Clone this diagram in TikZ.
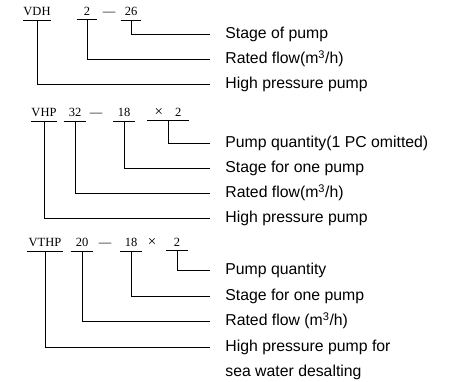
\documentclass[tikz,border=0pt]{standalone}
\usepackage{fontspec}
\setmainfont{Liberation Serif}
\setsansfont{Liberation Sans}
\usepackage{tikz}
\usetikzlibrary{positioning}

\begin{document}
\begin{tikzpicture}[x=1pt,y=-1pt,line width=0.8pt,
		code/.style={anchor=base, inner xsep=0pt, inner ysep=3.5pt, font=\rmfamily\fontsize{12.5}{14}\selectfont},
		sign/.style={anchor=base, inner sep=0pt, font=\rmfamily\fontsize{12.5}{14}\selectfont},
		lbl/.style={anchor=west, inner sep=0pt, text height=12pt, text depth=3pt, font=\sffamily\fontsize{15.8}{18}\selectfont}]

		\useasboundingbox (0,0) rectangle (450,382);

		%% Codes
		% VDH 2-26
		\begin{scope}
			\node (vdh) at (37,16) [code, minimum width=26pt] {VDH};
			\node (vdh_flow) at (87,16) [code, minimum width=20pt] {2};
			\node (vdh_dash) at (109,16) [sign] {—};
			\node (vdh_stage) at (131,16) [code, minimum width=20pt] {26};
		\end{scope}

		% VHP 32-18x2
		\begin{scope}
			\node (vhp) at (44,117) [code, minimum width=23pt] {VHP};
			\node (vhp_flow) at (75,117) [code, minimum width=22pt] {32};
			\node (vhp_dash) at (96,117) [sign] {—};
			\node (vhp_stage) at (124,117) [code, minimum width=21pt] {18};
			\node (vhp_qty) at (168,117) [code, minimum width=41pt] {{\fontsize{15}{15}\selectfont ×}\hspace{12pt}2};
		\end{scope}

		% VTHP 20-18x2
		\begin{scope}
			\node (vthp) at (45,247) [code, minimum width=36pt] {VTHP};
			\node (vthp_flow) at (82,247) [code, minimum width=22pt] {20};
			\node (vthp_dash) at (105,247) [sign] {—};
			\node (vthp_stage) at (131,247) [code, minimum width=22pt] {18};
			\node (vthp_times) at (152,247) [sign, font=\rmfamily\fontsize{15}{15}\selectfont] {×};
			\node (vthp_qty) at (177,247) [code, minimum width=22pt] {2};
		\end{scope}

		%% Labels
		\begin{scope}
			\node (l_stage1) at (225,34) [lbl] {Stage of pump};
			\node (l_flow1) at (225,59) [lbl] {Rated flow(m\textsuperscript{3}/h)};
			\node (l_hp1) at (225,84) [lbl] {High pressure pump};

			\node (l_qty2) at (225,143) [lbl] {Pump quantity(1 PC omitted)};
			\node (l_stage2) at (225,168) [lbl] {Stage for one pump};
			\node (l_flow2) at (225,193) [lbl] {Rated flow(m\textsuperscript{3}/h)};
			\node (l_hp2) at (225,218) [lbl] {High pressure pump};

			\node (l_qty3) at (225,270) [lbl] {Pump quantity};
			\node (l_stage3) at (225,296) [lbl] {Stage for one pump};
			\node (l_flow3) at (225,321) [lbl] {Rated flow (m\textsuperscript{3}/h)};
			\node (l_hp3) at (225,347) [lbl] {High pressure pump for};
			\node (l_hp3b) at (225,372) [lbl] {sea water desalting};
		\end{scope}

		%% Underlines
		\foreach \n in {vdh, vdh_flow, vdh_stage, vhp, vhp_flow, vhp_stage, vhp_qty, vthp, vthp_flow, vthp_stage, vthp_qty}
			\draw (\n.south west) -- (\n.south east);

		%% Leaders
		\draw (vdh_stage.south) |- ([xshift=-15pt]l_stage1.west);
		\draw (vdh_flow.south) |- ([xshift=-15pt]l_flow1.west);
		\draw (vdh.south) |- ([xshift=-15pt]l_hp1.west);

		\draw (vhp_qty.south) |- ([xshift=-15pt]l_qty2.west);
		\draw (vhp_stage.south) |- ([xshift=-15pt]l_stage2.west);
		\draw (vhp_flow.south) |- ([xshift=-15pt]l_flow2.west);
		\draw (vhp.south) |- ([xshift=-15pt]l_hp2.west);

		\draw (vthp_qty.south) |- ([xshift=-15pt]l_qty3.west);
		\draw (vthp_stage.south) |- ([xshift=-15pt]l_stage3.west);
		\draw (vthp_flow.south) |- ([xshift=-15pt]l_flow3.west);
		\draw (vthp.south) |- ([xshift=-15pt]l_hp3.west);
	\end{tikzpicture}
\end{document}
